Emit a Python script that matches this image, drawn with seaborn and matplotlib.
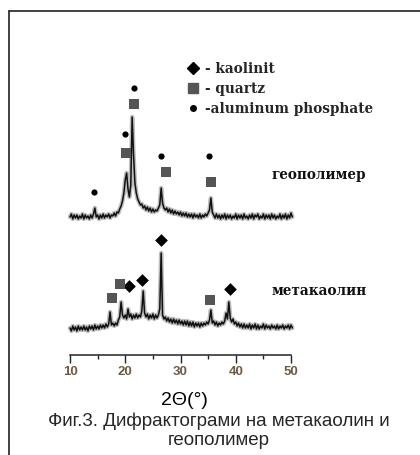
import numpy as np
import pandas as pd
import matplotlib
matplotlib.use("Agg")
import matplotlib.pyplot as plt
from matplotlib.lines import Line2D
import seaborn as sns

# ---- data (2theta step 0.25 starting at 10) ----
start_2theta = 10.0
step_2theta = 0.25

geopolymer_int = [
    138, 141, 136, 140, 137, 140, 136, 139, 137, 141, 136, 140, 137, 139, 136, 140,
    137, 141, 147, 138, 140, 136, 140, 137, 141, 137, 140, 138, 141, 137, 140, 139,
    142, 139, 143, 142, 146, 149, 154, 162, 175, 182, 166, 158, 170, 238, 200, 172,
    162, 156, 153, 150, 151, 147, 149, 145, 148, 144, 147, 143, 146, 143, 145, 144,
    147, 150, 167, 152, 147, 145, 147, 143, 146, 142, 145, 141, 144, 141, 143, 140,
    143, 139, 142, 139, 142, 138, 141, 138, 141, 137, 141, 138, 140, 137, 141, 137,
    140, 138, 141, 139, 142, 145, 157, 143, 140, 137, 141, 137, 140, 136, 140, 137,
    141, 136, 140, 137, 140, 136, 139, 137, 141, 136, 140, 137, 140, 136, 141, 137,
    139, 136, 140, 137, 141, 136, 140, 138, 141, 136, 139, 137, 141, 136, 140, 137,
    140, 136, 141, 137, 140, 136, 139, 137, 141, 136, 140, 137, 141, 136, 140, 137,
    142, 138,
]

metakaolin_int = [
    27, 24, 29, 25, 28, 24, 29, 25, 28, 25, 29, 25, 28, 24, 29, 26,
    29, 25, 30, 26, 29, 26, 30, 27, 30, 27, 31, 28, 31, 43, 30, 32,
    29, 32, 30, 35, 38, 53, 40, 37, 40, 36, 46, 38, 41, 36, 40, 37,
    41, 37, 40, 38, 44, 64, 42, 38, 41, 36, 40, 37, 41, 36, 40, 37,
    40, 46, 102, 40, 36, 38, 34, 37, 33, 36, 32, 36, 32, 35, 31, 35,
    31, 34, 30, 34, 30, 34, 29, 33, 29, 33, 28, 32, 29, 32, 28, 32,
    29, 32, 30, 33, 31, 35, 45, 32, 34, 30, 33, 29, 32, 30, 33, 31,
    34, 42, 36, 53, 37, 33, 36, 31, 33, 29, 32, 28, 31, 27, 31, 27,
    30, 27, 31, 26, 30, 27, 31, 26, 30, 26, 29, 27, 31, 26, 30, 27,
    29, 26, 30, 27, 29, 26, 30, 26, 29, 27, 30, 26, 29, 27, 30, 26,
    30, 27,
]

# peak markers (2theta, intensity)
kaolinit_x = [20.7, 23.1, 26.4, 38.9]
kaolinit_y = [69, 75, 115, 66]
quartz_x = [20.2, 21.6, 27.3, 35.6, 17.6, 19.1, 35.3]
quartz_y = [202, 251, 183, 173, 57, 71, 55]
phosphate_x = [14.4, 20.0, 21.6, 26.5, 35.1]
phosphate_y = [163, 221, 267, 199, 199]

legend_labels = ["- kaolinit", "- quartz", "-aluminum phosphate"]
sample_labels = ["геополимер", "метакаолин"]
xticks = [10, 20, 30, 40, 50]
xlabel = "2Θ(°)"
caption = "Фиг.3. Дифрактограми на метакаолин и\nгеополимер"

geo_df = pd.DataFrame({
    "two_theta": start_2theta + step_2theta * np.arange(len(geopolymer_int)),
    "intensity": geopolymer_int,
})
meta_df = pd.DataFrame({
    "two_theta": start_2theta + step_2theta * np.arange(len(metakaolin_int)),
    "intensity": metakaolin_int,
})

# ---- figure ----
sns.set_style("white")
W, H = 420, 455
fig = plt.figure(figsize=(W / 100, H / 100), dpi=100)
ax = fig.add_axes([70 / W, 1 - 355 / H, 221 / W, 315 / H])

for df in (geo_df, meta_df):
    sns.lineplot(data=df, x="two_theta", y="intensity", ax=ax, color="#8a8a8a",
                 lw=3.2, alpha=0.55, estimator=None, sort=False, clip_on=False)
    sns.lineplot(data=df, x="two_theta", y="intensity", ax=ax, color="#111111",
                 lw=1.1, estimator=None, sort=False, clip_on=False)

sns.scatterplot(x=kaolinit_x, y=kaolinit_y, marker="D", s=42, color="black",
                edgecolor="black", linewidth=0, ax=ax, zorder=5, clip_on=False)
sns.scatterplot(x=quartz_x, y=quartz_y, marker="s", s=42, color="#555555",
                edgecolor="#555555", linewidth=0, ax=ax, zorder=5, clip_on=False)
sns.scatterplot(x=phosphate_x, y=phosphate_y, marker="o", s=20, color="black",
                edgecolor="black", linewidth=0, ax=ax, zorder=5, clip_on=False)

ax.set_xlim(10, 50)
ax.set_ylim(0, 315)
ax.set_yticks([])
ax.set_ylabel("")
for sp in ("left", "top", "right"):
    ax.spines[sp].set_visible(False)
ax.spines["bottom"].set_color("#222222")
ax.spines["bottom"].set_linewidth(1.1)
ax.set_xticks(xticks)
ax.set_xticks([15, 25, 35, 45], minor=True)
ax.tick_params(axis="x", which="major", direction="out", length=5.5, width=1.0,
               color="#222222", pad=2.5, labelsize=9.5, labelcolor="#6e5a40", bottom=True)
ax.tick_params(axis="x", which="minor", direction="out", length=3, width=1.0,
               color="#222222", bottom=True)
for lab in ax.get_xticklabels():
    lab.set_fontfamily("Liberation Sans")
    lab.set_fontweight("bold")

ax.set_xlabel(xlabel, fontsize=14, family="Liberation Sans", color="black")
ax.xaxis.set_label_coords(0.516, -0.143)
ax.xaxis.label.set_va("center")

ax.text(46.4, 180, sample_labels[0], fontsize=9.8, family="DejaVu Serif",
        fontweight="bold", ha="left", va="center", color="#111111")
ax.text(46.4, 64, sample_labels[1], fontsize=9.8, family="DejaVu Serif",
        fontweight="bold", ha="left", va="center", color="#111111")

handles = [
    Line2D([], [], ls="none", marker="D", ms=6, color="black"),
    Line2D([], [], ls="none", marker="s", ms=6.5, color="#555555"),
    Line2D([], [], ls="none", marker="o", ms=4, color="black"),
]
leg = fig.legend(handles, legend_labels, loc="upper left",
                 bbox_to_anchor=(188 / W, 1 - 62 / H), frameon=False,
                 borderpad=0, borderaxespad=0, handlelength=0.8,
                 handletextpad=0.45, labelspacing=0.45,
                 prop={"family": "DejaVu Serif", "weight": "bold", "size": 9.8})

fig.text(219 / W, 1 - 431 / H, caption, ha="center", va="center",
         fontsize=13.5, family="Liberation Sans", linespacing=1.18)

# border of the figure panel
fig.add_artist(Line2D([9 / W, 9 / W], [0, 1 - 11 / H], color="#222222", lw=1.2))
fig.add_artist(Line2D([9 / W, 1], [1 - 11 / H, 1 - 11 / H], color="#222222", lw=1.2))

fig.savefig("out.png", dpi=100)
